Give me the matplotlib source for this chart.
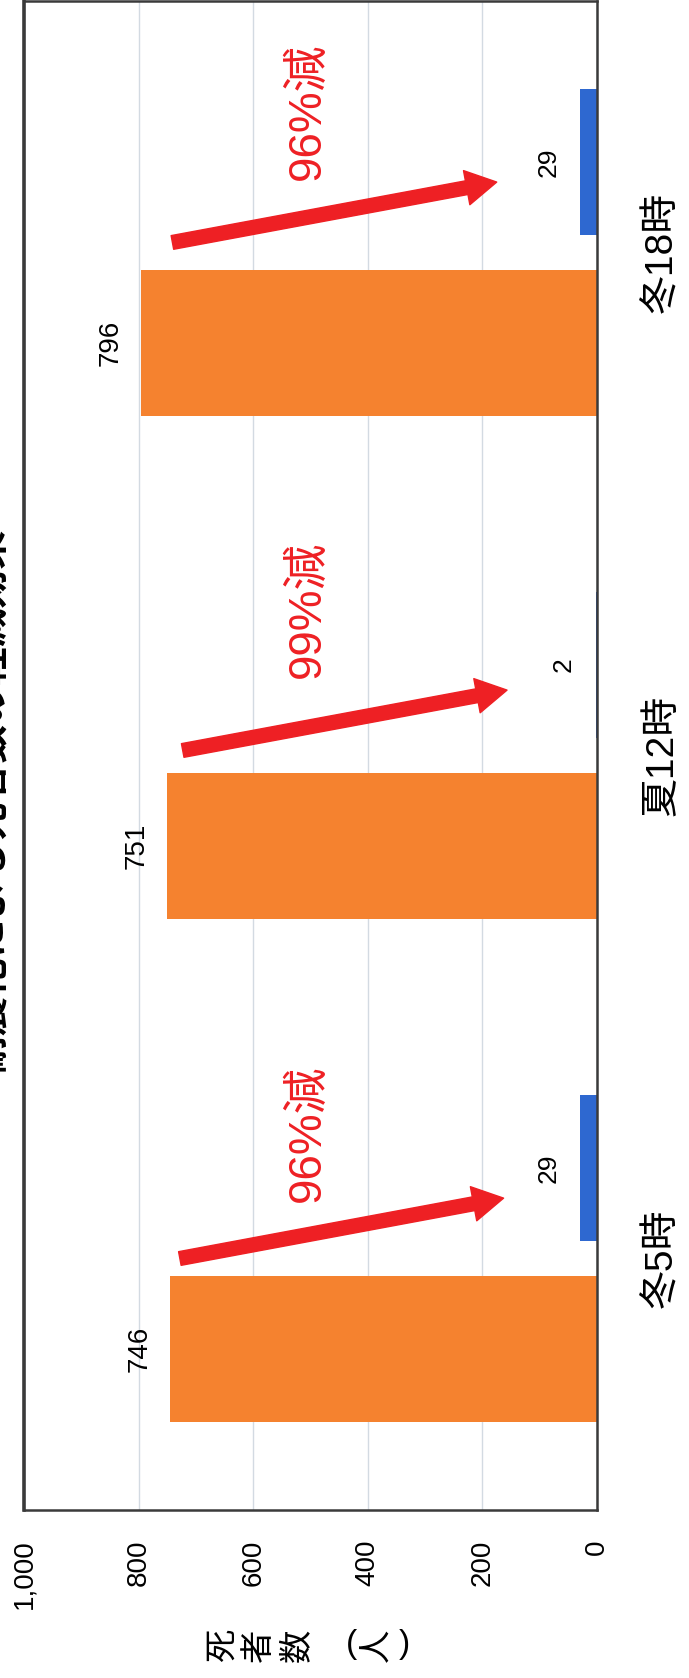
import numpy as np
import matplotlib.pyplot as plt

plt.rcParams["font.family"] = ["Liberation Sans", "Noto Sans CJK JP", "DejaVu Sans"]

# data
categories = ["冬5時", "夏12時", "冬18時"]
before = [746, 751, 796]
after = [29, 2, 29]
reduction_labels = ["96%減", "99%減", "96%減"]
value_ticks = [0, 200, 400, 600, 800, 1000]
value_tick_labels = ["0", "200", "400", "600", "800", "1,000"]
axis_title_chars = ["死", "者", "数", "(", "人", ")"]
title = "耐震化による死者数の軽減効果"

# annotation arrows: (value, offset from category) for tail and tip
arrow_tail = [(728, 0.00), (723, 0.01), (741, 0.02)]
arrow_tip = [(163, 0.12), (157, 0.13), (175, 0.14)]
text_pos = [(504, 0.25), (504, 0.29), (504, 0.28)]

W, H = 689, 1678
fig = plt.figure(figsize=(W / 100, H / 100), dpi=100)
fig.patch.set_facecolor("white")

# the whole chart is turned a quarter turn: values run right to left
ax = fig.add_axes([24 / W, (H - 1510) / H, (597 - 24) / W, 1509 / H])

y = np.arange(len(categories))
orange, blue, red = "#F5822F", "#2E68D0", "#EE2024"

ax.barh(y - 0.18, before, height=0.29, color=orange, zorder=2)
ax.barh(y + 0.18, after, height=0.29, color=blue, zorder=2)

ax.set_xlim(1000, 0)
ax.set_ylim(-0.5, 2.5)

for yi, v in zip(y - 0.18, before):
    ax.annotate(str(v), (v, yi), xytext=(-30, 0), textcoords="offset pixels",
                rotation=90, ha="center", va="center", fontsize=20)
for yi, v in zip(y + 0.18, after):
    ax.annotate(str(v), (v, yi), xytext=(-32, 0), textcoords="offset pixels",
                rotation=90, ha="center", va="center", fontsize=19)

for i in range(len(categories)):
    ax.annotate("", xy=(arrow_tip[i][0], i + arrow_tip[i][1]),
                xytext=(arrow_tail[i][0], i + arrow_tail[i][1]),
                arrowprops=dict(arrowstyle="simple,head_length=2.2,head_width=2.5,tail_width=1.0",
                                color=red, shrinkA=0, shrinkB=0), zorder=3)
    ax.text(text_pos[i][0], i + text_pos[i][1], reduction_labels[i], rotation=90,
            ha="center", va="center", fontsize=33, color=red, zorder=3)

ax.set_xticks(value_ticks, value_tick_labels)
ax.tick_params(axis="x", length=0, pad=21, labelsize=20, labelrotation=90)

ax.set_yticks(y, categories)
ax.yaxis.tick_right()
ax.tick_params(axis="y", length=0, pad=34, labelsize=28, labelrotation=90)
for lbl in ax.get_yticklabels():
    lbl.set_va("center")

ax.grid(axis="x", color="#d3dae2", lw=1, zorder=0)
ax.set_axisbelow(True)
for side in ax.spines.values():
    side.set_color("#3a3a3a")
    side.set_linewidth(1.8)
ax.spines["left"].set_linewidth(2.6)

# axis title, written vertically in the source, so one glyph at a time here
for ch, xp in zip(axis_title_chars, [223, 259, 297, 351, 378, 404]):
    rot = 0 if ch in "()" else 90
    fig.text(xp / W, 1 - 1645 / H, ch, rotation=rot, ha="center", va="center",
             fontsize=24)

# title, mostly cut off at the left edge as in the source
fig.text(-8 / W, 1 - 800 / H, title, rotation=90, ha="center", va="center",
         fontsize=28, weight="bold")

fig.savefig("out.png", dpi=100)
